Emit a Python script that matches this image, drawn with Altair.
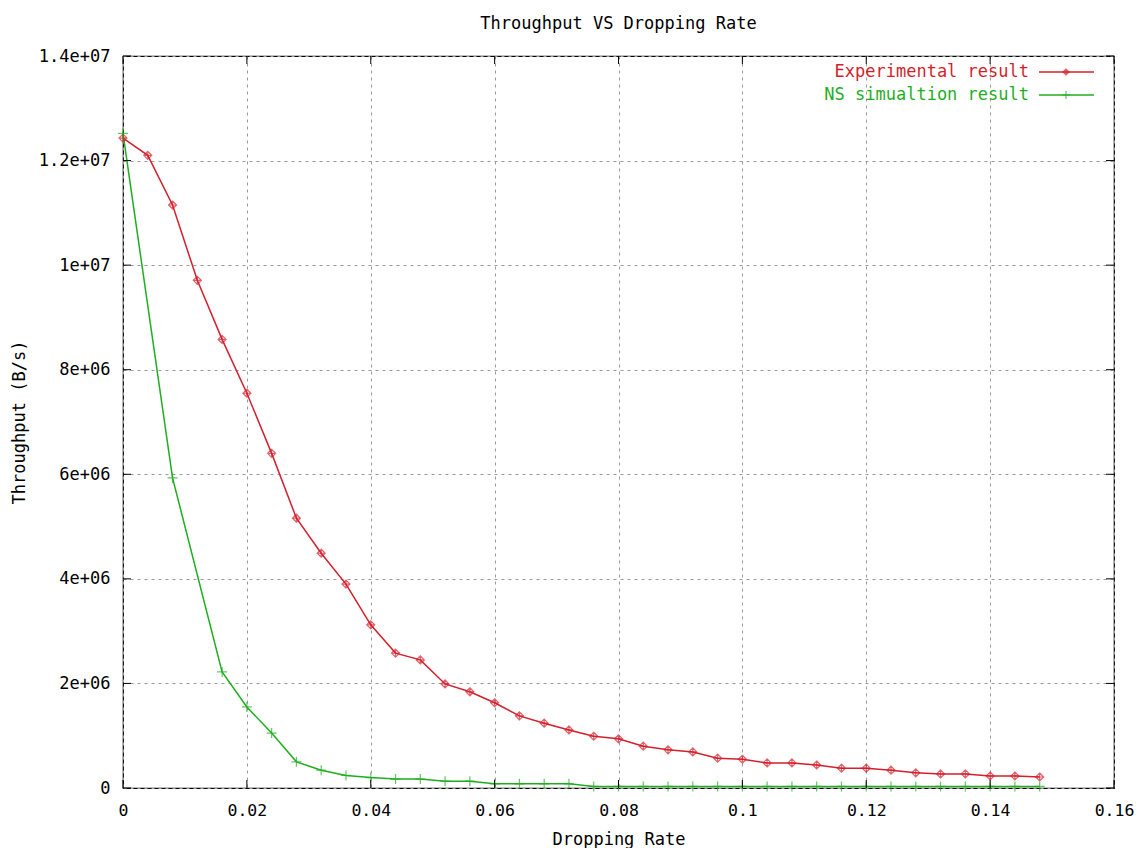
import altair as alt
import pandas as pd

# ---- data ----
exp_x = [0.000, 0.004, 0.008, 0.012, 0.016, 0.020, 0.024, 0.028, 0.032, 0.036,
         0.040, 0.044, 0.048, 0.052, 0.056, 0.060, 0.064, 0.068, 0.072, 0.076,
         0.080, 0.084, 0.088, 0.092, 0.096, 0.100, 0.104, 0.108, 0.112, 0.116,
         0.120, 0.124, 0.128, 0.132, 0.136, 0.140, 0.144, 0.148]
exp_y = [12.43e6, 12.10e6, 11.15e6, 9.71e6, 8.58e6, 7.55e6, 6.40e6, 5.16e6, 4.49e6, 3.90e6,
         3.12e6, 2.58e6, 2.45e6, 1.99e6, 1.84e6, 1.63e6, 1.38e6, 1.24e6, 1.11e6, 0.99e6,
         0.94e6, 0.80e6, 0.73e6, 0.69e6, 0.57e6, 0.55e6, 0.48e6, 0.48e6, 0.44e6, 0.38e6,
         0.38e6, 0.34e6, 0.29e6, 0.27e6, 0.27e6, 0.23e6, 0.23e6, 0.21e6]

ns_x = [0.000, 0.008, 0.016, 0.020, 0.024, 0.028, 0.032, 0.036, 0.040, 0.044,
        0.048, 0.052, 0.056, 0.060, 0.064, 0.068, 0.072, 0.076, 0.080, 0.084,
        0.088, 0.092, 0.096, 0.100, 0.104, 0.108, 0.112, 0.116, 0.120, 0.124,
        0.128, 0.132, 0.136, 0.140, 0.144, 0.148]
ns_y = [12.52e6, 5.93e6, 2.22e6, 1.55e6, 1.05e6, 0.50e6, 0.34e6, 0.24e6, 0.20e6, 0.17e6,
        0.17e6, 0.13e6, 0.13e6, 0.08e6, 0.08e6, 0.08e6, 0.08e6, 0.03e6, 0.03e6, 0.03e6,
        0.03e6, 0.03e6, 0.03e6, 0.03e6, 0.03e6, 0.03e6, 0.03e6, 0.03e6, 0.03e6, 0.03e6,
        0.03e6, 0.03e6, 0.03e6, 0.03e6, 0.03e6, 0.03e6]

x_ticks = [0, 0.02, 0.04, 0.06, 0.08, 0.1, 0.12, 0.14, 0.16]
x_tick_labels = ["0", "0.02", "0.04", "0.06", "0.08", "0.1", "0.12", "0.14", "0.16"]
y_ticks = [0, 2e6, 4e6, 6e6, 8e6, 1e7, 1.2e7, 1.4e7]
y_tick_labels = ["0", "2e+06", "4e+06", "6e+06", "8e+06", "1e+07", "1.2e+07", "1.4e+07"]

series_names = ["Experimental result", "NS simualtion result"]
colors = ["#d41f2c", "#1fae1f"]

title = "Throughput VS Dropping Rate"
x_title = "Dropping Rate"
y_title = "Throughput (B/s)"

# ---- layout ----
W, H = 991, 732
FONT = "DejaVu Sans Mono"
FS = 17


def label_expr(vals, labels):
    expr = "''"
    for v, l in reversed(list(zip(vals, labels))):
        expr = f"abs(datum.value - {v}) < {abs(v) * 1e-6 + 1e-9} ? '{l}' : ({expr})"
    return expr


exp_df = pd.DataFrame({"x": exp_x, "y": exp_y})
ns_df = pd.DataFrame({"x": ns_x, "y": ns_y})
xt_df = pd.DataFrame({"t": x_ticks})
yt_df = pd.DataFrame({"t": y_ticks})

xscale = alt.Scale(domain=[0, 0.16], nice=False, zero=False)
yscale = alt.Scale(domain=[0, 1.4e7], nice=False)

axis_style = dict(grid=True, gridDash=[3, 4], gridColor="#9a9a9a", gridWidth=1,
                  domain=False, ticks=False, labelFlush=False, labelOverlap=False,
                  labelFont=FONT, labelColor="black",
                  titleFont=FONT, titleFontSize=FS, titleFontWeight="normal", titleColor="black")
xaxis = alt.Axis(values=x_ticks, labelExpr=label_expr(x_ticks, x_tick_labels),
                 labelFontSize=16.5, labelPadding=14, titlePadding=13, **axis_style)
yaxis = alt.Axis(values=y_ticks, labelExpr=label_expr(y_ticks, y_tick_labels),
                 labelFontSize=FS, labelPadding=13, titlePadding=10, **axis_style)

diamond_plus = "M0,-1L1,0L0,1L-1,0Z M0,-1L0,1 M-1,0L1,0"
plus = "M-1,0L1,0 M0,-1L0,1"

base_x = alt.X("x:Q", scale=xscale, axis=xaxis, title=x_title)
base_y = alt.Y("y:Q", scale=yscale, axis=yaxis, title=y_title)

exp_line = alt.Chart(exp_df).mark_line(color=colors[0], strokeWidth=1.5).encode(x=base_x, y=base_y)
exp_pts = alt.Chart(exp_df).mark_point(shape=diamond_plus, filled=False, color=colors[0],
                                       size=64, strokeWidth=1.2).encode(x="x:Q", y="y:Q")
ns_line = alt.Chart(ns_df).mark_line(color=colors[1], strokeWidth=1.5).encode(x="x:Q", y="y:Q")
ns_pts = alt.Chart(ns_df).mark_point(shape=plus, filled=False, color=colors[1],
                                     size=100, strokeWidth=1.2).encode(x="x:Q", y="y:Q")

# inward tick marks on all four borders (gnuplot style)
tk = dict(color="black", strokeWidth=1)
xb = alt.Chart(xt_df).mark_rule(**tk).encode(x="t:Q", y=alt.value(H), y2=alt.value(H - 8))
xtp = alt.Chart(xt_df).mark_rule(**tk).encode(x="t:Q", y=alt.value(0), y2=alt.value(8))
yl = alt.Chart(yt_df).mark_rule(**tk).encode(y=alt.Y("t:Q", scale=yscale), x=alt.value(0), x2=alt.value(8))
yr = alt.Chart(yt_df).mark_rule(**tk).encode(y=alt.Y("t:Q", scale=yscale), x=alt.value(W), x2=alt.value(W - 8))

# legend (gnuplot style: right-aligned label, then sample)
leg_layers = []
for i, (name, col, shp, sz) in enumerate(zip(series_names, colors, [diamond_plus, plus], [36, 64])):
    yy = 16 + 23 * i
    d = pd.DataFrame({"n": [name]})
    leg_layers.append(alt.Chart(d).mark_text(align="right", baseline="middle", font=FONT,
                                             fontSize=FS, color=col)
                      .encode(text="n:N", x=alt.value(906), y=alt.value(yy)))
    leg_layers.append(alt.Chart(d).mark_rule(color=col, strokeWidth=1.5)
                      .encode(x=alt.value(916), x2=alt.value(971), y=alt.value(yy)))
    leg_layers.append(alt.Chart(d).mark_point(shape=shp, filled=False, color=col, size=sz, strokeWidth=1.2)
                      .encode(x=alt.value(943), y=alt.value(yy)))

chart = alt.layer(exp_line, ns_line, exp_pts, ns_pts, xb, xtp, yl, yr, *leg_layers).properties(
    width=W, height=H,
    title=alt.TitleParams(title, font=FONT, fontSize=FS, fontWeight="normal", color="black",
                          anchor="middle", offset=14),
    autosize=alt.AutoSizeParams(type="none"),
    padding={"left": 115, "top": 48, "right": 21, "bottom": 60},
    background="white",
).configure_view(stroke="black", strokeWidth=1.2)

chart.save("out.html", embed_options={"renderer": "svg", "actions": False})
